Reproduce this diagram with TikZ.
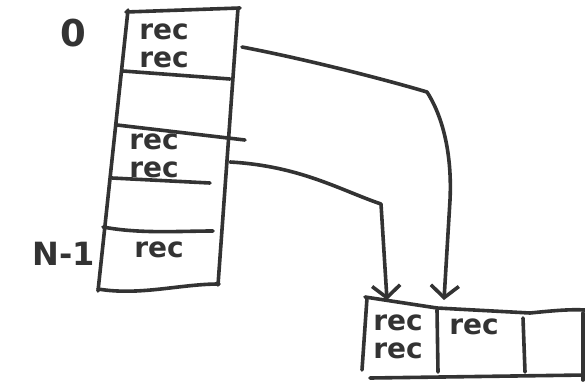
\documentclass[tikz,border=0pt]{standalone}
\usepackage{fontspec}
\setmainfont{DejaVu Sans}
\usetikzlibrary{arrows.meta}
\definecolor{ink}{HTML}{333333}

\begin{document}
\begin{tikzpicture}[
    x=1pt, y=-1pt,
    pen/.style={draw=ink, line width=3.6pt, line cap=round, line join=round},
    arr/.style={pen, -{Straight Barb[length=12pt, width=28pt]}},
    rec/.style={text=ink, inner sep=0pt, align=center,
                font=\fontsize{28}{28}\selectfont\bfseries},
    idx/.style={text=ink, inner sep=0pt, font=\fontsize{37}{37}\selectfont\bfseries},
]
\useasboundingbox (0,0) rectangle (585,383);

% Hash table: slanted column of buckets
\draw[pen] (126,12) -- (240,8);
\draw[pen] (128,10) -- (98,291);
\draw[pen] (238,8) -- (218,285);
\draw[pen] (98,289) .. controls (140,296) and (180,284) .. (219,284);
% bucket dividers
\draw[pen] (123,71) -- (230,79);
\draw[pen] (117,125) -- (245,140);
\draw[pen] (112,178) -- (210,183);
\draw[pen] (103,227) .. controls (140,234) and (180,231) .. (213,231);

% Bucket labels
\node[idx] (first) at (73,33) {0};
\node[idx, font=\fontsize{32}{32}\selectfont\bfseries] (last) at (64,254) {N-1};

% Records in buckets
\node[rec] (bkt0) at (164,46) {rec\\rec};
\node[rec] (bkt2) at (154,156) {rec\\rec};
\node[rec] (bktN) at (159,250) {rec};

% Record array, runs off to the right
\draw[pen] (365,297) -- (437,308) -- (530,313)
   .. controls (550,311) and (570,309) .. (585,310);
\draw[pen] (367,298) -- (362,370);
\draw[pen] (437,310) -- (438,372);
\draw[pen] (523,318) -- (525,372);
\draw[pen] (583,313) -- (583,380);
\draw[pen] (370,378) -- (585,375);

\node[rec] (slot0) at (398,337) {rec\\rec};
\node[rec] (slot1) at (474,327) {rec};

% Pointers from buckets into the array
\coordinate (src0) at (242,47);
\coordinate (src2) at (230,162);
\coordinate (dst0) at (387,300);
\coordinate (dst1) at (444,300);
\draw[arr] (src0) .. controls (300,58) and (380,78) .. (427,92)
   .. controls (445,120) and (452,160) .. (450,200) -- (dst1);
\draw[arr] (src2) .. controls (300,166) and (340,190) .. (381,204)
   -- (dst0);

\end{tikzpicture}
\end{document}
